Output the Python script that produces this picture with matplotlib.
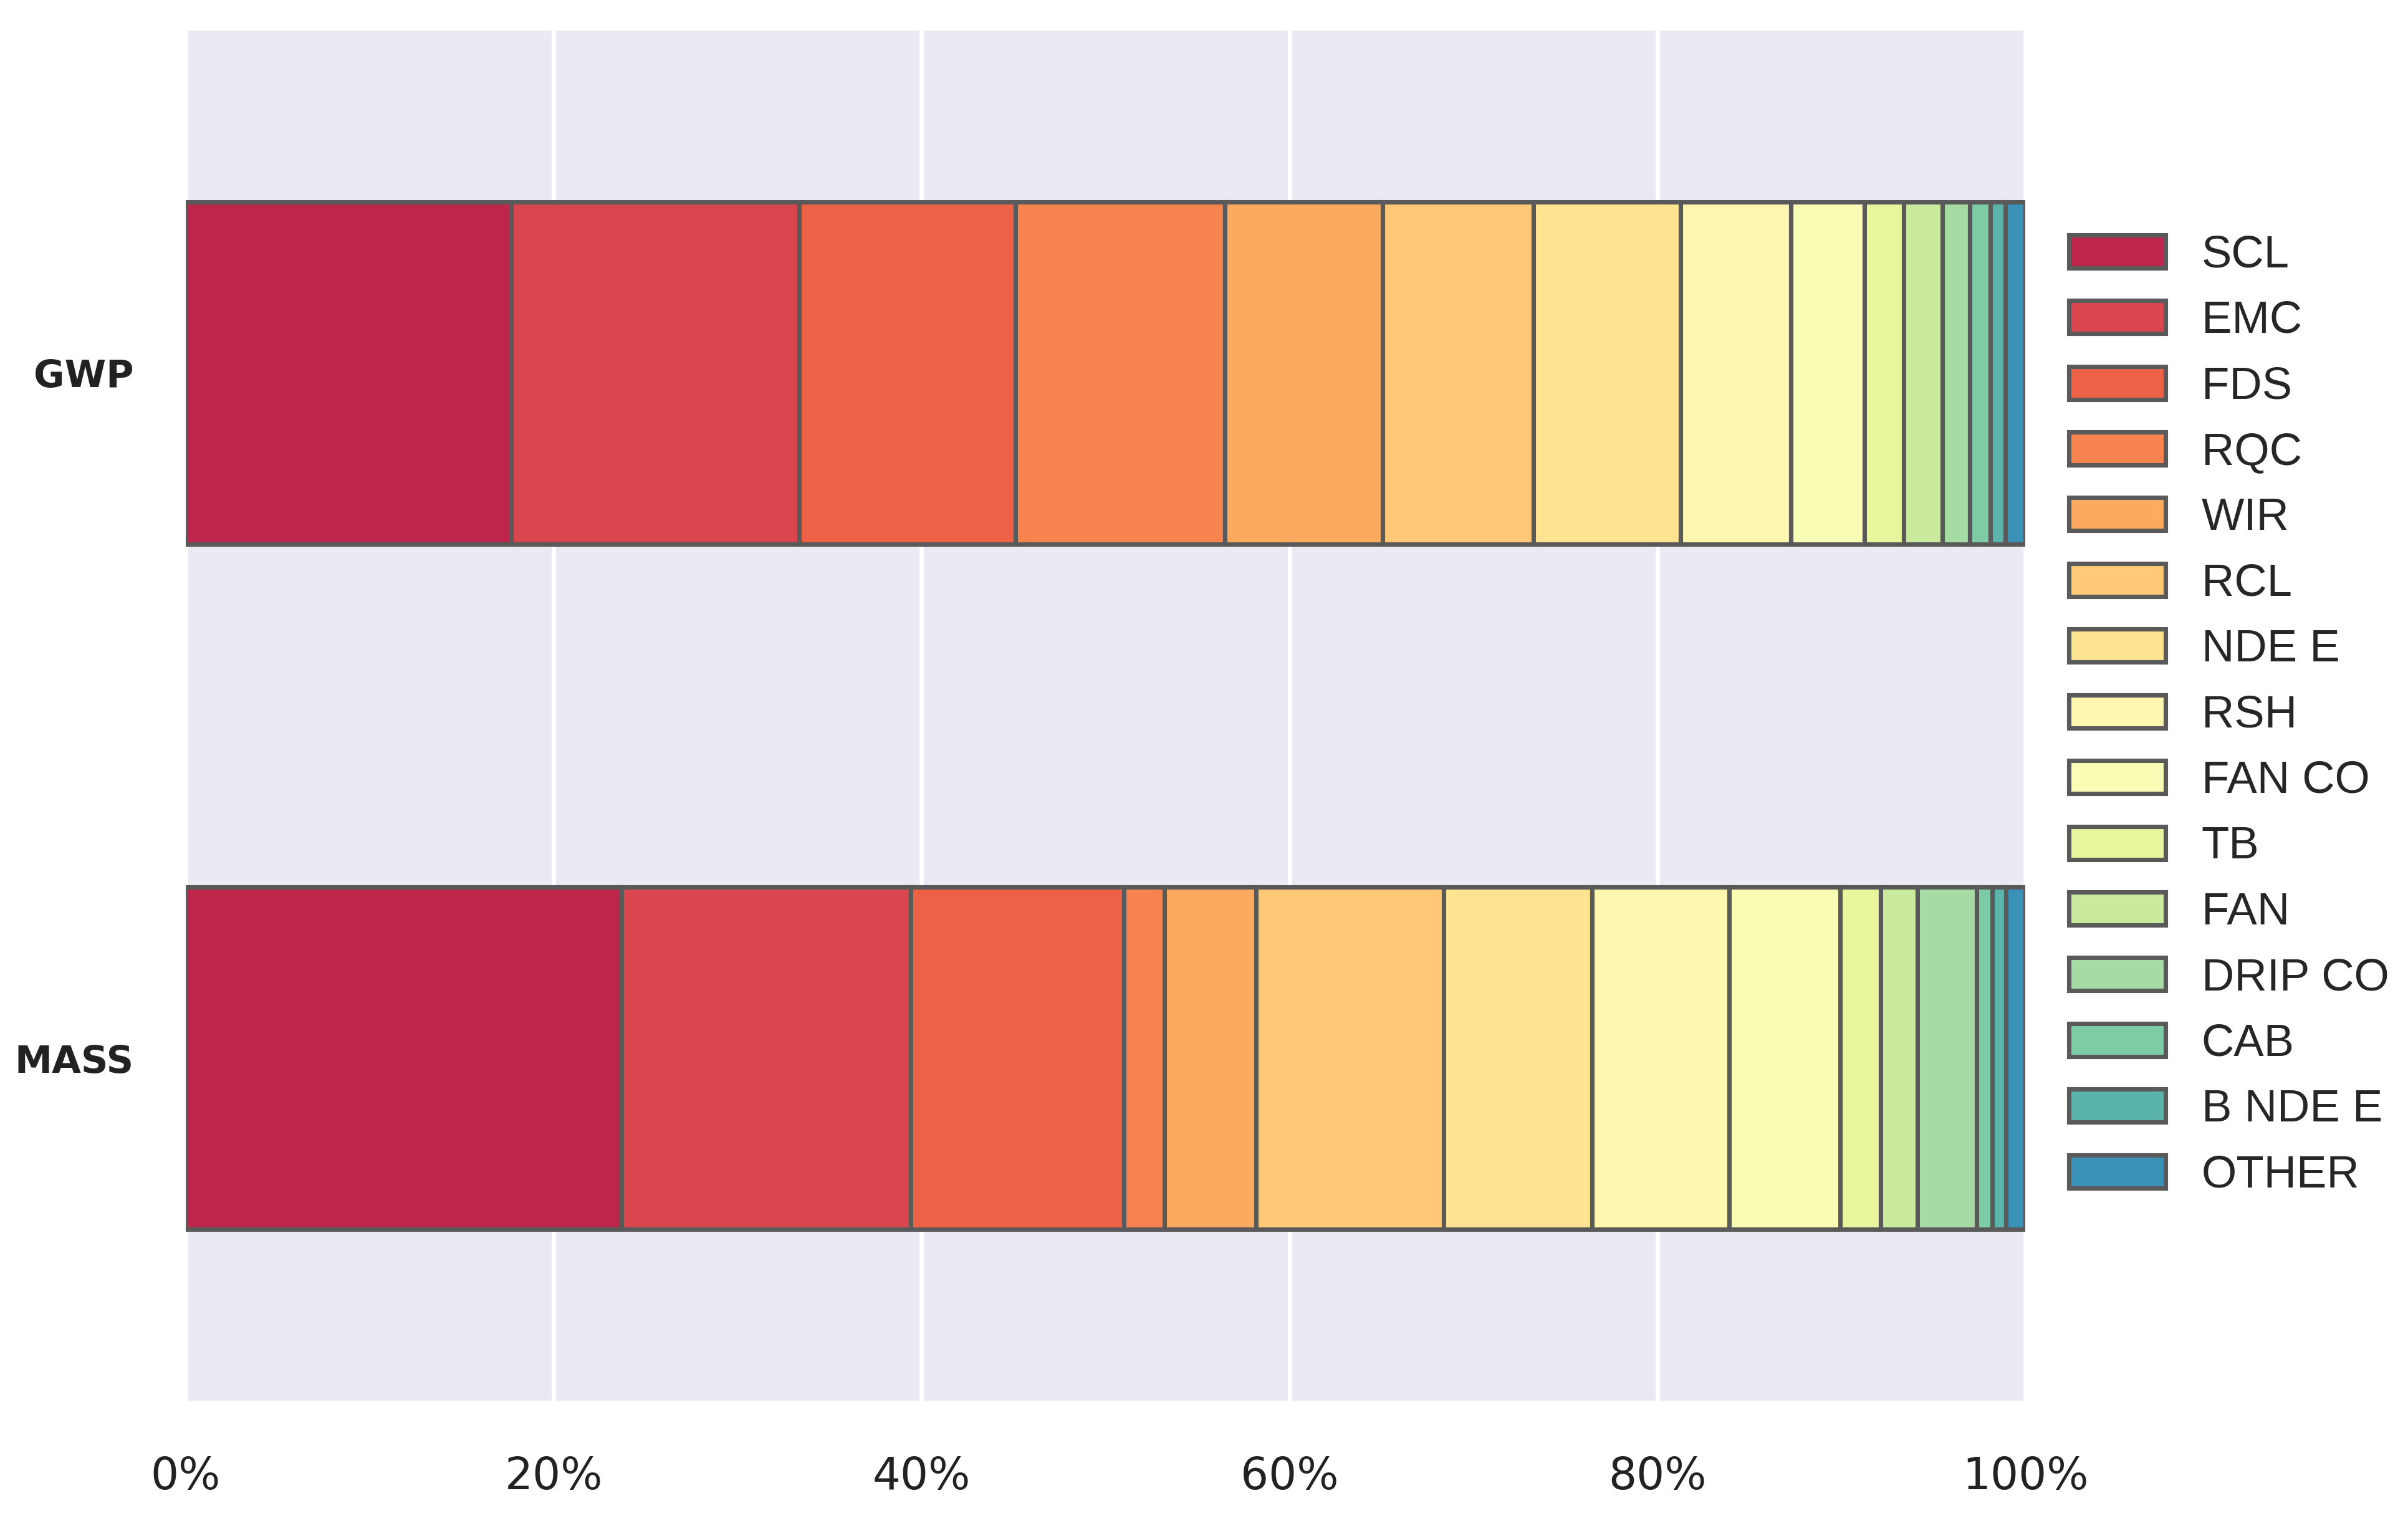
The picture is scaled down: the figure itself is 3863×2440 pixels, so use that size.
import numpy as np
import matplotlib
matplotlib.use("Agg")
import matplotlib.pyplot as plt
import seaborn as sns
from matplotlib.ticker import FuncFormatter

sns.set_style("darkgrid")
plt.rcParams['font.family'] = ['DejaVu Sans']

bars = ["GWP", "MASS"]
categories = ["SCL", "EMC", "FDS", "RQC", "WIR", "RCL", "NDE E", "RSH",
              "FAN CO", "TB", "FAN", "DRIP CO", "CAB", "B NDE E", "OTHER"]
gwp = [17.7, 15.65, 11.75, 11.4, 8.55, 8.2, 8.0, 6.0, 4.0, 2.15, 2.1, 1.5, 1.1, 0.8, 1.1]
mass = [23.7, 15.7, 11.6, 2.2, 5.0, 10.2, 8.05, 7.45, 6.05, 2.2, 2.0, 3.2, 0.85, 0.75, 1.05]
xticks = [0, 20, 40, 60, 80, 100]

data = np.array([gwp, mass])
colors = sns.color_palette("Spectral", len(categories) + 1)[:len(categories)]

fig = plt.figure(figsize=(3863 / 300, 2440 / 300), dpi=300)
ax = fig.add_axes([298 / 3863, 1 - 2247 / 2440, (3249 - 298) / 3863, (2247 - 49) / 2440])

ypos = np.arange(len(bars))
left = np.zeros(len(bars))
for i, cat in enumerate(categories):
    ax.barh(ypos, data[:, i], left=left, height=0.5, color=colors[i],
            edgecolor="#5a5a5a", linewidth=1.7, label=cat, zorder=3)
    left += data[:, i]

ax.set_xlim(0, 100)
ax.set_ylim(1.5, -0.5)
ax.set_xticks(xticks)
ax.xaxis.set_major_formatter(FuncFormatter(lambda v, p: f"{v:.0f}%"))
ax.set_yticks(ypos)
ax.set_yticklabels(bars, fontweight="bold", fontsize=14.5, color="#222222")
ax.tick_params(axis="x", labelsize=17, pad=21, length=0, colors="#222222")
ax.tick_params(axis="y", pad=20, length=0)
ax.grid(axis="y", visible=False)
ax.grid(axis="x", color="white", linewidth=1.6)
for s in ax.spines.values():
    s.set_visible(False)

leg = ax.legend(loc="center left", bbox_to_anchor=(1.0, 0.5), frameon=False,
                prop={"family": "Liberation Sans", "size": 17.4},
                handlelength=2.14, handleheight=0.75, labelspacing=0.53,
                handletextpad=0.8, borderaxespad=0.56)

fig.savefig("out.png", dpi=300, facecolor="white")
